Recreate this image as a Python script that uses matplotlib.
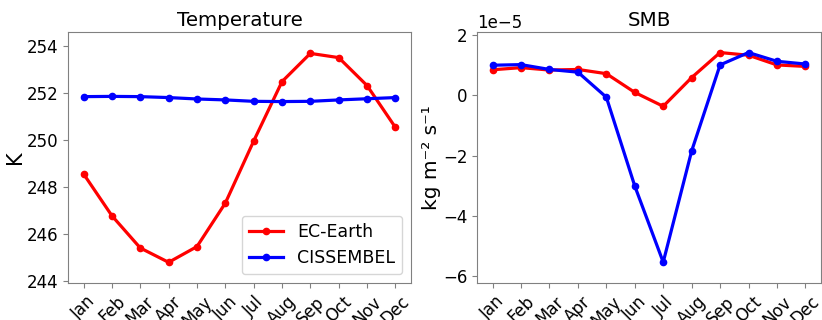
import matplotlib
matplotlib.use("Agg")
import matplotlib.pyplot as plt

months = ["Jan", "Feb", "Mar", "Apr", "May", "Jun", "Jul", "Aug", "Sep", "Oct", "Nov", "Dec"]
temp_ec = [248.57, 246.79, 245.42, 244.81, 245.48, 247.33, 249.97, 252.5, 253.7, 253.52, 252.33, 250.55]
temp_cis = [251.86, 251.87, 251.86, 251.82, 251.76, 251.72, 251.66, 251.65, 251.66, 251.72, 251.77, 251.82]
smb_ec = [0.84e-5, 0.91e-5, 0.83e-5, 0.85e-5, 0.71e-5, 0.09e-5, -0.37e-5, 0.58e-5, 1.41e-5, 1.32e-5, 1.0e-5, 0.95e-5]
smb_cis = [0.99e-5, 1.01e-5, 0.85e-5, 0.76e-5, -0.07e-5, -3.01e-5, -5.53e-5, -1.85e-5, 1.0e-5, 1.41e-5, 1.12e-5, 1.03e-5]

W, H = 822, 320
fig = plt.figure(figsize=(W / 100, H / 100), dpi=100)
ax1 = fig.add_axes([68 / W, 37 / H, (411 - 68) / W, (283 - 32) / H])
ax2 = fig.add_axes([477 / W, 37 / H, (821 - 477) / W, (283 - 32) / H])

spine_col = "#808080"
x = list(range(len(months)))

for ax in (ax1, ax2):
    for s in ax.spines.values():
        s.set_color(spine_col)
    ax.tick_params(axis="both", colors=spine_col, labelcolor="black", labelsize=12)
    ax.set_xticks(x)
    ax.set_xticklabels(months, rotation=45)
    ax.set_xlim(-0.55, 11.55)

ax1.plot(x, temp_ec, color="red", marker="o", markersize=4.5, linewidth=2.3, label="EC-Earth")
ax1.plot(x, temp_cis, color="blue", marker="o", markersize=4.5, linewidth=2.3, label="CISSEMBEL")
ax1.set_ylim(243.93, 254.61)
ax1.set_yticks([244, 246, 248, 250, 252, 254])
ax1.set_title("Temperature", fontsize=14.3, pad=4)
ax1.set_ylabel("K", fontsize=15, labelpad=1)
ax1.legend(loc="lower right", fontsize=12.5)

ax2.plot(x, smb_ec, color="red", marker="o", markersize=4.5, linewidth=2.3, label="EC-Earth")
ax2.plot(x, smb_cis, color="blue", marker="o", markersize=4.5, linewidth=2.3, label="CISSEMBEL")
ax2.set_ylim(-6.22e-5, 2.09e-5)
ax2.set_yticks([-6e-5, -4e-5, -2e-5, 0, 2e-5])
ax2.yaxis.get_offset_text().set_fontsize(12)
ax2.set_title("SMB", fontsize=14.3, pad=4)
ax2.set_ylabel("kg m\u207b\u00b2 s\u207b\u00b9", fontsize=14.5, labelpad=1)

fig.savefig("out.png", dpi=100)
